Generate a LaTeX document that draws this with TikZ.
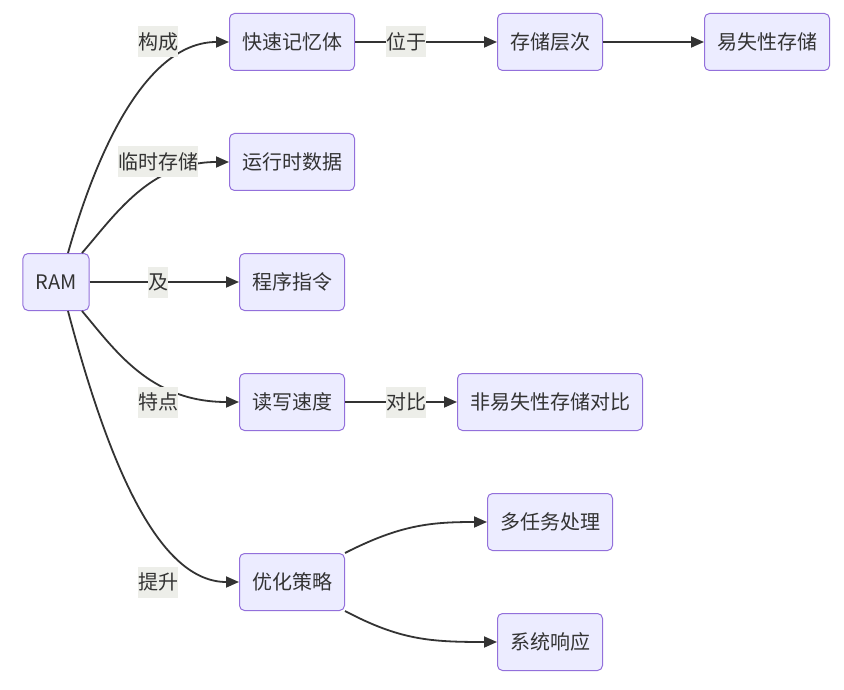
\documentclass[tikz,border=0pt]{standalone}
\usepackage{fontspec}
\setmainfont{Noto Sans CJK SC}
\usetikzlibrary{arrows.meta}
\definecolor{boxfill}{HTML}{ECECFF}
\definecolor{boxline}{HTML}{9370DB}
\definecolor{edgeline}{HTML}{333333}
\definecolor{labelbg}{HTML}{EDEEE9}
\tikzset{
  box/.style={draw=boxline,fill=boxfill,line width=1pt,rounded corners=5pt,
    minimum height=57pt,inner xsep=12.5pt,font=\fontsize{20}{23}\selectfont,text=edgeline},
  elabel/.style={fill=labelbg,inner xsep=0pt,minimum height=31pt,
    font=\fontsize{20}{23}\selectfont,text=edgeline},
  link/.style={draw=edgeline,line width=1.8pt,-{Triangle[length=13pt,width=11pt]}}
}
\begin{document}
\begin{tikzpicture}[x=1pt,y=-1pt]
  \useasboundingbox (0,0) rectangle (844,690);
  % nodes
  \node[box] (ram) at (56,282) {RAM};
  \node[box] (fast) at (292,42) {快速记忆体};
  \node[box] (hier) at (550,42) {存储层次};
  \node[box] (vol) at (767,42) {易失性存储};
  \node[box] (run) at (292,162) {运行时数据};
  \node[box] (prog) at (292,282) {程序指令};
  \node[box] (rw) at (292,402) {读写速度};
  \node[box] (nonvol) at (550,402) {非易失性存储对比};
  \node[box] (opt) at (292,582) {优化策略};
  \node[box] (multi) at (550,522) {多任务处理};
  \node[box] (resp) at (550,642) {系统响应};
  % edges
  \draw[link] ([xshift=12pt]ram.north) .. controls (100,140) and (150,42) .. (fast.west);
  \draw[link] ([xshift=26pt]ram.north) .. controls (115,215) and (150,162) .. (run.west);
  \draw[link] (ram.east) -- (prog.west);
  \draw[link] ([xshift=26pt]ram.south) .. controls (115,350) and (150,402) .. (rw.west);
  \draw[link] ([xshift=12pt]ram.south) .. controls (110,470) and (160,582) .. (opt.west);
  \draw[link] (fast.east) -- (hier.west);
  \draw[link] (hier.east) -- (vol.west);
  \draw[link] (rw.east) -- (nonvol.west);
  \draw[link] (opt.north east) .. controls (400,525) and (430,522) .. (multi.west);
  \draw[link] (opt.south east) .. controls (400,640) and (430,642) .. (resp.west);
  % edge labels
  \node[elabel] (l1) at (158,42) {构成};
  \node[elabel] (l2) at (158,162) {临时存储};
  \node[elabel] (l3) at (158,282) {及};
  \node[elabel] (l4) at (158,402) {特点};
  \node[elabel] (l5) at (158,582) {提升};
  \node[elabel] (l6) at (406,42) {位于};
  \node[elabel] (l7) at (406,402) {对比};
\end{tikzpicture}
\end{document}
